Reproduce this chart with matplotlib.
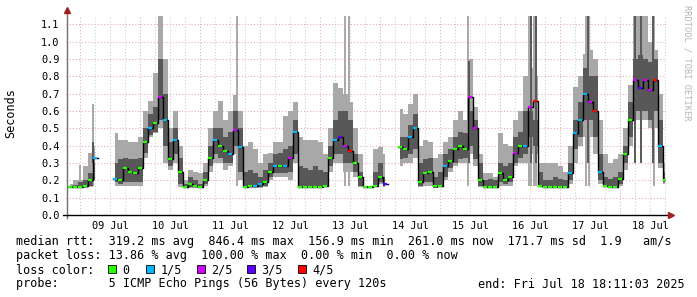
import numpy as np
import matplotlib
matplotlib.use("Agg")
import matplotlib.pyplot as plt
from matplotlib.lines import Line2D
from matplotlib.patches import Rectangle

nan = np.nan

# hours since 09 Jul 00:00, one sample every 2h
hours = list(range(-4, 236, 2))

# median rtt (s)
med = [.16, .16, .16, .165, .20, .33, nan, nan, nan, .21,
       .20, .27, .25, .24, .27, .42, .50, .53, .68, .55,
       .32, .43, .25, .16, .18, .17, .16, .20, .33, .43,
       .40, .37, .35, .49, .39, .16, .17, .17, .18, .19,
       .25, .28, .28, .28, .33, .48, .16, .16, .16, .16,
       .16, .17, .33, .43, .45, .40, .37, .30, .22, .16,
       .16, .17, .22, .18, nan, nan, .39, .38, .45, .50,
       .19, .24, .25, .17, .17, .28, .31, .38, .40, .38,
       .68, .50, .20, .16, .16, .16, .24, .20, .22, .36,
       .40, .40, .62, .66, .17, .16, .16, .16, .16, .16,
       .24, .47, .55, .70, .65, .60, .25, .17, .16, .16,
       .21, .35, .55, .78, .73, .78, .72, .78, .40, .20]

# outer smoke (fastest / slowest ping)
lo = [.155, .155, .155, .155, .16, .20, nan, nan, nan, .17,
      .17, .17, .17, .17, .17, .33, .45, .47, .50, .30,
      .26, .30, .16, .155, .155, .155, .155, .17, .25, .30,
      .30, .26, .28, .35, .20, .155, .155, .155, .155, .16,
      .20, .22, .22, .22, .20, .30, .155, .155, .155, .155,
      .155, .16, .25, .30, .30, .25, .25, .22, .16, .155,
      .155, .16, .18, .16, nan, nan, .28, .30, .30, .33,
      .16, .17, .17, .155, .16, .20, .25, .28, .30, .30,
      .35, .28, .16, .155, .155, .155, .17, .17, .17, .28,
      .30, .30, .35, .35, .16, .155, .155, .155, .155, .155,
      .18, .30, .40, .45, .45, .35, .18, .16, .155, .155,
      .17, .26, .40, .55, .55, .55, .50, .50, .27, .18]

hi = [.18, .20, .20, .28, .36, .40, nan, nan, nan, .47,
      .43, .43, .42, .42, .45, .60, .66, .82, 1.15, .90,
      .50, .60, .40, .20, .26, .25, .24, .30, .50, .60,
      .66, .55, .60, .69, .60, .40, .42, .38, .30, .35,
      .36, .42, .42, .57, .60, .65, .45, .43, .43, .43,
      .42, .35, .50, .76, .73, .70, .65, .50, .35, .17,
      .17, .38, .39, .35, nan, nan, .61, .58, .64, .70,
      .40, .43, .42, .33, .35, .42, .45, .55, .60, .55,
      .90, .62, .35, .24, .24, .22, .47, .41, .40, .55,
      .60, .80, .85, .80, .30, .30, .30, .30, .28, .25,
      .40, .74, .80, .93, .95, .90, .55, .35, .30, .32,
      .35, .50, .75, 1.15, 1.15, 1.15, 1.00, .95, .70, .30]

# inner smoke (2nd / 4th ping)
dlo = [.158, .158, .158, .16, .17, .20, nan, nan, nan, .19,
       .18, .19, .19, .19, .19, .36, .46, .48, .55, .40,
       .28, .35, .18, .158, .16, .16, .158, .18, .28, .35,
       .33, .30, .30, .40, .25, .158, .16, .16, .16, .17,
       .22, .24, .24, .24, .25, .35, .158, .158, .158, .158,
       .158, .17, .28, .35, .35, .30, .30, .25, .17, .158,
       .158, .16, .19, .17, nan, nan, .32, .33, .35, .38,
       .17, .19, .19, .158, .165, .22, .27, .30, .32, .33,
       .40, .32, .17, .158, .158, .158, .19, .18, .19, .30,
       .33, .35, .45, .40, .17, .16, .16, .16, .16, .158,
       .20, .38, .45, .55, .55, .45, .20, .165, .16, .16,
       .18, .30, .45, .60, .60, .60, .55, .60, .30, .19]

dhi = [.17, .175, .19, .20, .24, .30, nan, nan, nan, .30,
       .32, .33, .32, .32, .33, .50, .58, .62, .90, .70,
       .42, .50, .33, .18, .22, .20, .18, .25, .40, .50,
       .50, .45, .48, .60, .50, .25, .26, .24, .22, .26,
       .30, .35, .36, .38, .40, .55, .28, .27, .26, .28,
       .26, .25, .40, .55, .60, .60, .55, .35, .25, .165,
       .165, .25, .30, .22, nan, nan, .45, .45, .52, .58,
       .30, .32, .33, .22, .25, .35, .38, .45, .48, .47,
       .60, .55, .30, .20, .21, .20, .30, .28, .30, .45,
       .48, .60, .60, .55, .25, .20, .20, .22, .21, .20,
       .30, .55, .65, .85, .80, .80, .35, .22, .21, .22,
       .25, .40, .65, .90, .92, .90, .88, .90, .55, .25]

# narrow single-step spikes (hour, top)
spike_h = [0, 5.3, 62.7, 105.8, 107.6, 155.3, 179.5, 180.5, 181.5, 182.5,
           202.5, 203.5, 229.5]
spike_top = [.29, .64, 1.15, 1.15, 1.15, 1.15, 1.15, 1.15, 1.15, 1.15,
             1.15, 1.15, 1.15]
dspike_h = [5.0, 155.5, 180.3, 182.3, 203.0, 222.0, 224.5, 229.0]
dspike_top = [.42, .89, 1.15, 1.15, 1.15, 1.15, 1.15, 1.15]

# lost pings out of 5
loss = [0, 0, 0, 0, 0, 1, 0, 0, 0, 1,
        0, 0, 0, 0, 0, 0, 1, 0, 2, 1,
        0, 1, 0, 0, 0, 0, 0, 0, 0, 1,
        0, 0, 1, 2, 1, 0, 0, 1, 1, 0,
        0, 1, 0, 1, 2, 1, 0, 0, 0, 0,
        0, 0, 0, 1, 3, 2, 4, 0, 0, 0,
        0, 0, 0, 3, 0, 0, 0, 0, 1, 1,
        0, 0, 0, 0, 0, 1, 0, 0, 0, 0,
        2, 2, 0, 0, 0, 0, 0, 0, 0, 2,
        0, 1, 2, 4, 0, 0, 0, 0, 0, 0,
        1, 1, 1, 1, 2, 4, 1, 0, 0, 0,
        0, 0, 0, 2, 3, 2, 2, 4, 1, 0]

loss_colors = ['#26ff00', '#00b8ff', '#d000ff', '#5a00ff', '#ff0000']
loss_labels = ['0', '1/5', '2/5', '3/5', '4/5']
day_labels = ['09 Jul', '10 Jul', '11 Jul', '12 Jul', '13 Jul',
              '14 Jul', '15 Jul', '16 Jul', '17 Jul', '18 Jul']

W, H = 697, 297
mono = 'DejaVu Sans Mono'


def fx(x):
    return x / W


def fy(y):
    return 1 - y / H


fig = plt.figure(figsize=(W / 100, H / 100), dpi=100)
ax = fig.add_axes([fx(65.5), fy(215), 600 / W, 200 / H])
ax.set_xlim(-5.82, 234.18)
ax.set_ylim(0, 1.153)
for s in ax.spines.values():
    s.set_visible(False)

# grid
for v in np.arange(0.1, 1.15, 0.1):
    ax.axhline(v, color='#eba8a8', lw=0.75, ls=(0, (1, 2)), zorder=1)
for h in range(0, 235, 6):
    c = '#eba8a8' if h % 24 == 0 else '#cccccc'
    ax.axvline(h, color=c, lw=0.75, ls=(0, (1, 2)), zorder=1)

t = np.array(hours, dtype=float)
ax.fill_between(t, lo, hi, step='mid', color='#a8a8a8', lw=0, zorder=2)
ax.vlines(spike_h, 0.17, spike_top, color='#a8a8a8', lw=1.4, zorder=2)
ax.fill_between(t, dlo, dhi, step='mid', color='#585858', lw=0, zorder=3)
ax.vlines(dspike_h, 0.3, dspike_top, color='#585858', lw=1.4, zorder=3)
ax.step(t, med, where='mid', color='black', lw=1.0, zorder=4)
mv = np.array(med)
ok = ~np.isnan(mv)
ax.hlines(mv[ok], t[ok] - 0.9, t[ok] + 0.9,
          colors=[loss_colors[k] for k, o in zip(loss, ok) if o],
          lw=1.6, zorder=5)

ax.set_yticks(np.arange(0, 1.15, 0.1))
ax.set_yticklabels([f'{v:.1f}' for v in np.arange(0, 1.15, 0.1)],
                   family=mono, fontsize=7.4)
ax.set_xticks([12 + 24 * i for i in range(len(day_labels))])
ax.set_xticklabels(day_labels, family=mono, fontsize=7.4)
ax.tick_params(length=0)
ax.tick_params(axis='y', pad=4.5)
ax.tick_params(axis='x', pad=4.5)

# axes with arrows
fig.add_artist(Line2D([fx(66.5), fx(66.5)], [fy(218), fy(12)], color='#707070', lw=1))
fig.add_artist(Line2D([fx(63), fx(669)], [fy(215), fy(215)], color='black', lw=1))
fig.add_artist(Line2D([fx(671)], [fy(215)], marker='>', ms=4, color='#a02020', lw=0))
fig.add_artist(Line2D([fx(66.5)], [fy(10)], marker='^', ms=4, color='#a02020', lw=0))

fig.text(fx(11), fy(113), 'Seconds', rotation=90, ha='center', va='center',
         family=mono, fontsize=8.5)
fig.text(fx(687), fy(5), 'RRDTOOL / TOBI OETIKER', rotation=270, ha='center',
         va='top', family=mono, fontsize=6.2, color='#b4b4b4')

lines = [
    'median rtt:  319.2 ms avg  846.4 ms max  156.9 ms min  261.0 ms now  171.7 ms sd  1.9   am/s',
    'packet loss: 13.86 % avg  100.00 % max  0.00 % min  0.00 % now',
]
for i, s in enumerate(lines):
    fig.text(fx(16), fy(245.5 + 14 * i), s, family=mono, fontsize=8.5, va='baseline')
fig.text(fx(16), fy(273.5), 'loss color:', family=mono, fontsize=8.5, va='baseline')
box_x = [108, 146, 197, 247, 298]
for bx, c, lab in zip(box_x, loss_colors, loss_labels):
    fig.add_artist(Rectangle((fx(bx), fy(273)), 8 / W, 8 / H, facecolor=c,
                             edgecolor='black', lw=0.6, transform=fig.transFigure))
    fig.text(fx(bx + 14.5), fy(273.5), lab, family=mono, fontsize=8.5, va='baseline')
fig.text(fx(16), fy(287.5), 'probe:       5 ICMP Echo Pings (56 Bytes) every 120s',
         family=mono, fontsize=8.5, va='baseline')
fig.text(fx(478), fy(287.5), 'end: Fri Jul 18 18:11:03 2025',
         family=mono, fontsize=8.5, va='baseline')

fig.savefig('out.png', dpi=100, facecolor='white')
